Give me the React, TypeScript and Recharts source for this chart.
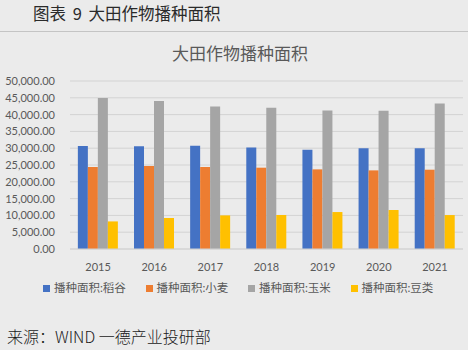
import React from "react";
import { BarChart, Bar, XAxis, YAxis, CartesianGrid, Legend } from "recharts";

const years = ["2015", "2016", "2017", "2018", "2019", "2020", "2021"];
const rice = [30650, 30600, 30700, 30190, 29550, 29950, 29950];
const wheat = [24400, 24700, 24400, 24200, 23700, 23400, 23600];
const corn = [44970, 44050, 42440, 42050, 41250, 41160, 43330];
const beans = [8210, 9230, 10000, 10120, 11000, 11600, 10100];
const yTicks = [0, 5000, 10000, 15000, 20000, 25000, 30000, 35000, 40000, 45000, 50000];

const seriesNames = ["播种面积:稻谷", "播种面积:小麦", "播种面积:玉米", "播种面积:豆类"];
const colours = ["#4472c4", "#ed7d31", "#a5a5a5", "#ffc000"];

const data = years.map((y, i) => ({
  year: y,
  rice: rice[i],
  wheat: wheat[i],
  corn: corn[i],
  beans: beans[i],
}));

const keys = ["rice", "wheat", "corn", "beans"];
const font = "Lato, 'Noto Sans CJK SC', sans-serif";
const fmt = (v: number) =>
  v.toLocaleString("en-US", { minimumFractionDigits: 2, maximumFractionDigits: 2 });

function LegendRow() {
  // keep series order (recharts sorts the payload by name otherwise)
  return (
    <div style={{ display: "flex", paddingLeft: 43, fontFamily: font, fontSize: 11.5, color: "#595959", lineHeight: "18px" }}>
      {seriesNames.map((name, i) => (
        <div key={name} style={{ display: "flex", alignItems: "center", width: 102.5 }}>
          <span style={{ display: "inline-block", width: 7, height: 7, background: colours[i], marginRight: 4 }} />
          <span>{name}</span>
        </div>
      ))}
    </div>
  );
}

export default function App() {
  return (
    <div style={{ position: "absolute", left: 0, top: 0, width: 468, height: 350, background: "#ebebeb", overflow: "hidden" }}>
      <div
        style={{
          position: "absolute", left: 33, top: 2, fontFamily: "'Noto Sans CJK SC', sans-serif",
          fontSize: 16.5, fontWeight: 400, color: "#2a2a2a", lineHeight: "22px", wordSpacing: 3,
        }}
      >
        图表 9 大田作物播种面积
      </div>
      <div style={{ position: "absolute", left: 0, top: 31, width: 468, height: 1, background: "#c4c4c4" }} />
      <div
        style={{
          position: "absolute", left: 0, top: 42, width: 480, textAlign: "center",
          fontFamily: "'Noto Sans CJK SC', sans-serif", fontSize: 17, color: "#595959", lineHeight: "22px",
        }}
      >
        大田作物播种面积
      </div>
      <div style={{ position: "absolute", left: 0, top: 0 }}>
        <BarChart
          width={468}
          height={300}
          data={data}
          margin={{ top: 81, right: 5, left: 0, bottom: 3 }}
          barCategoryGap="14%"
          barGap={0}
        >
          <CartesianGrid vertical={false} stroke="#d3d3d3" />
          <XAxis
            dataKey="year"
            height={30}
            tick={{ fontSize: 11, fill: "#595959", fontFamily: font }}
            tickLine={false}
            axisLine={{ stroke: "#d3d3d3" }}
            tickMargin={8}
          />
          <YAxis
            width={70}
            domain={[0, 50000]}
            ticks={yTicks}
            interval={0}
            tickFormatter={fmt}
            tick={{ fontSize: 11, fill: "#595959", fontFamily: font }}
            tickLine={false}
            axisLine={false}
            tickMargin={9}
          />
          <Legend verticalAlign="bottom" content={<LegendRow />} />
          {keys.map((k, i) => (
            <Bar key={k} dataKey={k} name={seriesNames[i]} fill={colours[i]} isAnimationActive={false} />
          ))}
        </BarChart>
      </div>
      <div
        style={{
          position: "absolute", left: 7, top: 325, fontFamily: "'Noto Sans CJK SC', serif",
          fontSize: 16, fontWeight: 300, color: "#1a1a1a", lineHeight: "22px",
        }}
      >
        来源：WIND 一德产业投研部
      </div>
    </div>
  );
}
